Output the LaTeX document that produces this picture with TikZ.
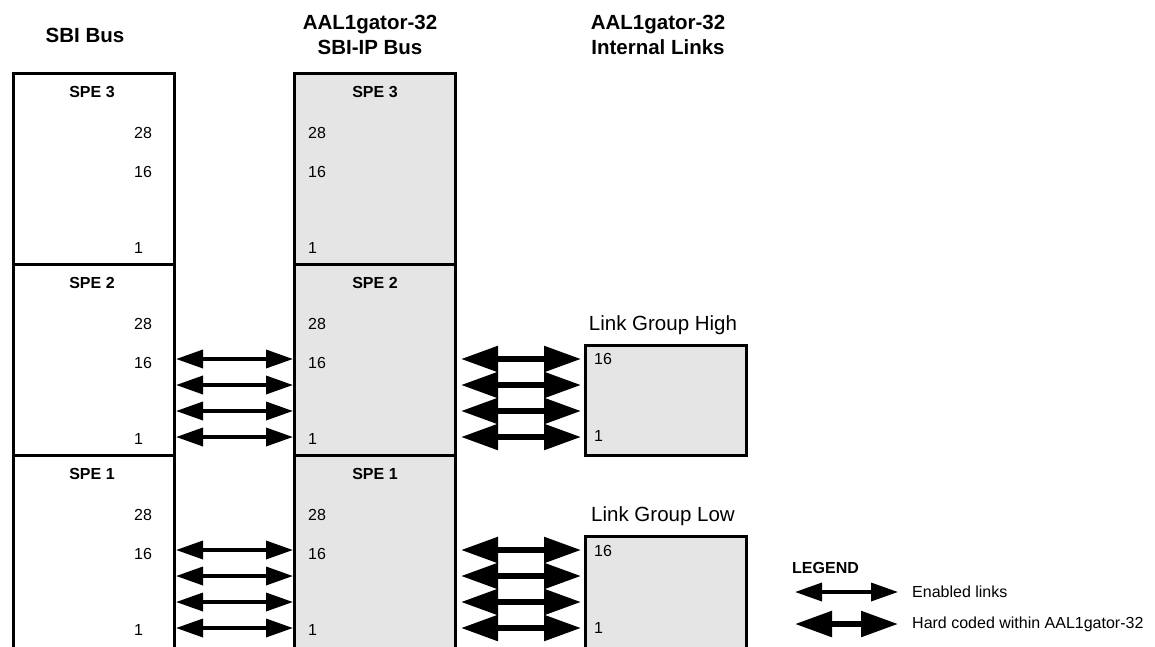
\documentclass[tikz,border=0pt]{standalone}
\usepackage{fontspec}
\setmainfont{Liberation Sans}
\usepackage{tikz}
\usetikzlibrary{arrows.meta}

\begin{document}
\begin{tikzpicture}[x=1pt,y=-1pt,
  cell/.style={rectangle,draw=black,line width=3pt,inner sep=0pt,minimum width=161pt,minimum height=191pt,anchor=north west},
  ipcell/.style={cell,fill=black!10},
  grpbox/.style={cell,fill=black!10,minimum height=110pt},
  head/.style={font=\fontsize{20.5}{25}\selectfont\bfseries,align=center,inner sep=0pt},
  spe/.style={font=\fontsize{16}{19}\selectfont\bfseries,inner sep=0pt},
  num/.style={font=\fontsize{16}{19}\selectfont,inner sep=0pt,anchor=west},
  grplabel/.style={font=\fontsize{20.5}{24}\selectfont,inner sep=0pt,anchor=south},
  legtext/.style={font=\fontsize{16}{19}\selectfont,inner sep=0pt,anchor=west},
  enabled/.style={{Triangle[length=27pt,width=18pt]}-{Triangle[length=27pt,width=18pt]},line width=3.5pt},
  hard/.style={{Triangle[length=37pt,width=25pt]}-{Triangle[length=37pt,width=25pt]},line width=5.5pt}]
\useasboundingbox (0,0) rectangle (1155,646);
\clip (0,0) rectangle (1155,646);
% column headings
\node[head] (h-sbi) at (85,35) {SBI Bus};
\node[head] (h-ip) at (370,35) {AAL1gator-32\\SBI-IP Bus};
\node[head] (h-int) at (658,35) {AAL1gator-32\\Internal Links};
% SBI bus and SBI-IP bus columns
\node[cell] (s3) at (12,72) {};
\node[cell] (s2) at (12,263) {};
\node[cell,minimum height=230pt] (s1) at (12,454) {};
\node[ipcell] (p3) at (293,72) {};
\node[ipcell] (p2) at (293,263) {};
\node[ipcell,minimum height=230pt] (p1) at (293,454) {};
\foreach \n/\yy in {3/72,2/263,1/454} {
  \node[spe] (s\n-spe) at (92,\yy+20) {SPE \n};
  \node[num] (s\n-28) at (134,\yy+61) {28};
  \node[num] (s\n-16) at (134,\yy+100) {16};
  \node[num] (s\n-1) at (134,\yy+176) {1};
  \node[spe] (p\n-spe) at (375,\yy+20) {SPE \n};
  \node[num] (p\n-28) at (308,\yy+61) {28};
  \node[num] (p\n-16) at (308,\yy+100) {16};
  \node[num] (p\n-1) at (308,\yy+176) {1};
}
% internal link groups
\node[grpbox] (g2) at (584,344) {};
\node[grpbox,minimum height=200pt] (g1) at (584,535) {};
\node[grplabel] (g2-lbl) at (663,335) {Link Group High};
\node[grplabel] (g1-lbl) at (663,526) {Link Group Low};
\node[num] (g2-16) at (594,359) {16};
\node[num] (g2-1) at (594,436) {1};
\node[num] (g1-16) at (594,551) {16};
\node[num] (g1-1) at (594,628) {1};
% links
\foreach \n/\yy in {2/263,1/454} {
  \foreach \d in {96,122,148,174} {
    \draw[enabled] (s\n.east |- 0,\yy+\d) -- (p\n.west |- 0,\yy+\d);
    \draw[hard,shorten <=4pt,shorten >=3pt] (p\n.east |- 0,\yy+\d) -- (g\n.west |- 0,\yy+\d);
  }
}
% legend
\node[legtext,font=\fontsize{16}{19}\selectfont\bfseries] (legend) at (792,568) {LEGEND};
\node[legtext] (en-txt) at (912,592) {Enabled links};
\node[legtext] (hc-txt) at (912,624) {Hard coded within AAL1gator-32};
\coordinate (en-a) at (795,592);
\coordinate (hc-a) at (795,624);
\draw[enabled] (en-a) -- ([xshift=-14pt]en-txt.west);
\draw[hard] (hc-a) -- ([xshift=-14pt]hc-txt.west);
\end{tikzpicture}
\end{document}
